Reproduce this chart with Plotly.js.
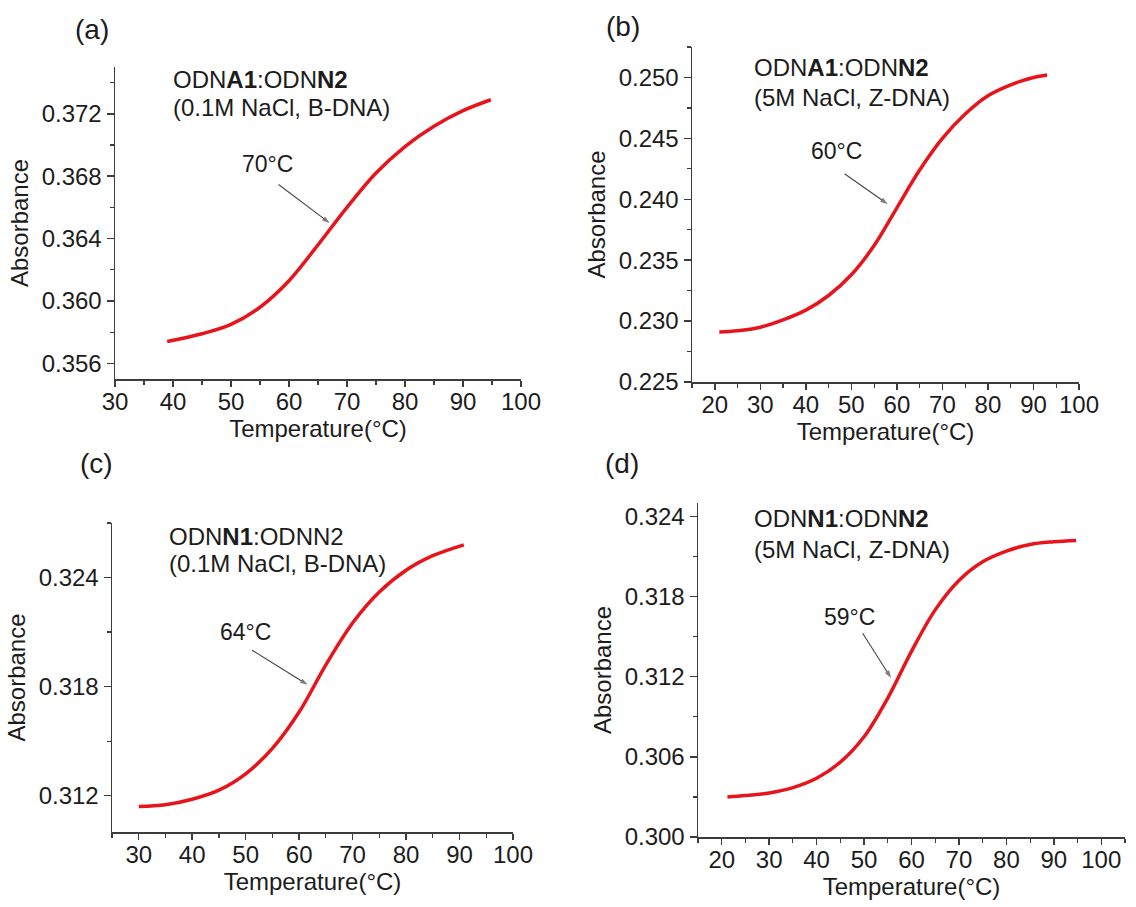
<!DOCTYPE html>
<html>
<head>
<meta charset="utf-8">
<script src="https://cdn.plot.ly/plotly-3.0.1.min.js"></script>
<style>html,body{margin:0;padding:0;background:#fff;}</style>
</head>
<body>
<div id="chart" style="width:1136px;height:907px;"></div>
<script>
// ---- data ----
const tempA = [39, 45, 50, 55, 60, 65, 70, 75, 80, 85, 90, 94.8];
const absA  = [0.3574, 0.3579, 0.3585, 0.3596, 0.3613, 0.3636, 0.3660, 0.3682, 0.3699, 0.3712, 0.3722, 0.3729];

const tempB = [21, 25, 30, 35, 40, 45, 50, 55, 60, 65, 70, 75, 80, 85, 90, 93];
const absB  = [0.2291, 0.2292, 0.2295, 0.2301, 0.2309, 0.2321, 0.2338, 0.2362, 0.2393, 0.2424, 0.2450, 0.2470, 0.2485, 0.2494, 0.2500, 0.2502];

const tempC = [30, 35, 40, 45, 50, 55, 60, 65, 70, 75, 80, 85, 90.8];
const absC  = [0.3114, 0.3115, 0.3118, 0.3123, 0.3132, 0.3146, 0.3166, 0.3192, 0.3215, 0.3232, 0.3244, 0.3252, 0.3258];

const tempD = [21.2, 25, 30, 35, 40, 45, 50, 55, 60, 65, 70, 75, 80, 85, 90, 94.7];
const absD  = [0.3030, 0.3031, 0.3033, 0.3037, 0.3044, 0.3056, 0.3075, 0.3104, 0.3139, 0.3170, 0.3192, 0.3206, 0.3214, 0.3219, 0.3221, 0.3222];

const panelLetters = ['(a)', '(b)', '(c)', '(d)'];
const sampleLine1 = [
  'ODN<b>A1</b>:ODN<b>N2</b>',
  'ODN<b>A1</b>:ODN<b>N2</b>',
  'ODN<b>N1</b>:ODNN2',
  'ODN<b>N1</b>:ODN<b>N2</b>'
];
const sampleLine2 = [
  '(0.1M NaCl, B-DNA)',
  '(5M NaCl, Z-DNA)',
  '(0.1M NaCl, B-DNA)',
  '(5M NaCl, Z-DNA)'
];
const meltLabels = ['70°C', '60°C', '64°C', '59°C'];
const xTitle = 'Temperature(°C)';
const yTitle = 'Absorbance';
// melting-point label position, arrow tail and arrow head (data units)
const meltTextT = [56.3, 46.7, 50.0, 47.0];
const meltTextA = [0.3688, 0.2440, 0.3210, 0.31645];
const arrowTailT = [58.2, 48.5, 51.2, 49.7];
const arrowTailA = [0.36747, 0.2421, 0.3200, 0.31525];
const arrowHeadT = [67.0, 58.0, 61.6, 55.7];
const arrowHeadA = [0.36500, 0.2396, 0.3181, 0.31190];

const xRanges = [[30, 100], [15, 100], [25, 100], [15, 105]];
const yRanges = [[0.355, 0.375], [0.225, 0.2525], [0.310, 0.327], [0.300, 0.325]];
const yTick0  = [0.356, 0.225, 0.312, 0.300];
const yDtick  = [0.004, 0.005, 0.006, 0.006];

// ---- layout geometry ----
const W = 1136, H = 907;
const boxes = [ // [left, right, top, bottom] in px
  [115, 521, 67, 379],
  [692, 1079, 47, 382],
  [112, 513, 523, 832],
  [698, 1125, 503, 837]
];
const letterPos = [[92, 30], [623, 27], [96, 463], [622, 463]];
const labelX  = [171, 752, 167, 752];
const line1Y  = [80, 67, 536, 518];
const line2Y  = [108, 98, 563, 549];

const FONT = 'Arial, "Liberation Sans", sans-serif';
const INK = '#1c1c1c';
const AXC = '#3c3c3c';
const RED = '#e8141c';
const ARROW = '#454545';

const temps = [tempA, tempB, tempC, tempD];
const abss = [absA, absB, absC, absD];

const data = [];
const layout = {
  width: W, height: H,
  margin: {l: 0, r: 0, t: 0, b: 0},
  paper_bgcolor: '#fff', plot_bgcolor: '#fff',
  showlegend: false,
  font: {family: FONT, color: INK, size: 24},
  annotations: []
};

for (let i = 0; i < 4; i++) {
  const xa = i === 0 ? 'x' : 'x' + (i + 1);
  const ya = i === 0 ? 'y' : 'y' + (i + 1);
  const xk = i === 0 ? 'xaxis' : 'xaxis' + (i + 1);
  const yk = i === 0 ? 'yaxis' : 'yaxis' + (i + 1);
  const b = boxes[i];
  data.push({
    x: temps[i], y: abss[i], xaxis: xa, yaxis: ya,
    type: 'scatter', mode: 'lines',
    line: {color: RED, width: 3.5, shape: 'spline', smoothing: 1},
    hoverinfo: 'skip'
  });
  // pointer arrow: line with an arrow marker oriented along the segment
  data.push({
    x: [arrowTailT[i], arrowHeadT[i]], y: [arrowTailA[i], arrowHeadA[i]],
    xaxis: xa, yaxis: ya, type: 'scatter', mode: 'lines+markers',
    line: {color: ARROW, width: 1.1},
    marker: {symbol: ['circle', 'arrow'], size: [0, 8], angleref: 'previous', color: ARROW, line: {width: 0}},
    hoverinfo: 'skip', cliponaxis: false
  });
  layout[xk] = {
    domain: [b[0] / W, b[1] / W], anchor: ya,
    range: xRanges[i], dtick: 10, tick0: 0,
    showline: true, linecolor: AXC, linewidth: 1.5,
    ticks: 'outside', ticklen: 6, tickwidth: 1.5, tickcolor: AXC,
    minor: {ticks: 'outside', ticklen: 4, tickwidth: 1.2, tickcolor: AXC, dtick: 5, showgrid: false},
    showgrid: false, zeroline: false,
    tickfont: {size: 24, color: INK, family: FONT},
    ticklabelstandoff: -5,
    title: {text: xTitle, font: {size: 24, color: INK, family: FONT}, standoff: 4},
    fixedrange: true
  };
  layout[yk] = {
    domain: [1 - b[3] / H, 1 - b[2] / H], anchor: xa,
    range: yRanges[i], tick0: yTick0[i], dtick: yDtick[i], tickformat: '.3f',
    showline: true, linecolor: AXC, linewidth: 1.5,
    ticks: 'outside', ticklen: 7, tickwidth: 1.5, tickcolor: AXC,
    minor: {ticks: 'outside', ticklen: 4, tickwidth: 1.2, tickcolor: AXC, dtick: yDtick[i] / 2, showgrid: false},
    showgrid: false, zeroline: false,
    tickfont: {size: 24, color: INK, family: FONT},
    title: {text: yTitle, font: {size: 24, color: INK, family: FONT}, standoff: 6},
    fixedrange: true
  };
  // panel letter
  layout.annotations.push({
    xref: 'paper', yref: 'paper', x: letterPos[i][0] / W, y: 1 - letterPos[i][1] / H,
    xanchor: 'center', yanchor: 'middle', showarrow: false,
    text: panelLetters[i], font: {size: 28, color: INK, family: FONT}
  });
  // sample label, two lines
  layout.annotations.push({
    xref: 'paper', yref: 'paper', x: labelX[i] / W, y: 1 - line1Y[i] / H,
    xanchor: 'left', yanchor: 'middle', align: 'left', showarrow: false,
    text: sampleLine1[i], font: {size: 24, color: INK, family: FONT}
  });
  layout.annotations.push({
    xref: 'paper', yref: 'paper', x: labelX[i] / W, y: 1 - line2Y[i] / H,
    xanchor: 'left', yanchor: 'middle', align: 'left', showarrow: false,
    text: sampleLine2[i], font: {size: 24, color: INK, family: FONT}
  });
  // melting label
  layout.annotations.push({
    xref: xa, yref: ya, x: meltTextT[i], y: meltTextA[i],
    xanchor: 'center', yanchor: 'middle', showarrow: false,
    text: meltLabels[i], font: {size: 23, color: INK, family: FONT}
  });
}

Plotly.newPlot('chart', data, layout, {displayModeBar: false, staticPlot: true});
</script>
</body>
</html>
